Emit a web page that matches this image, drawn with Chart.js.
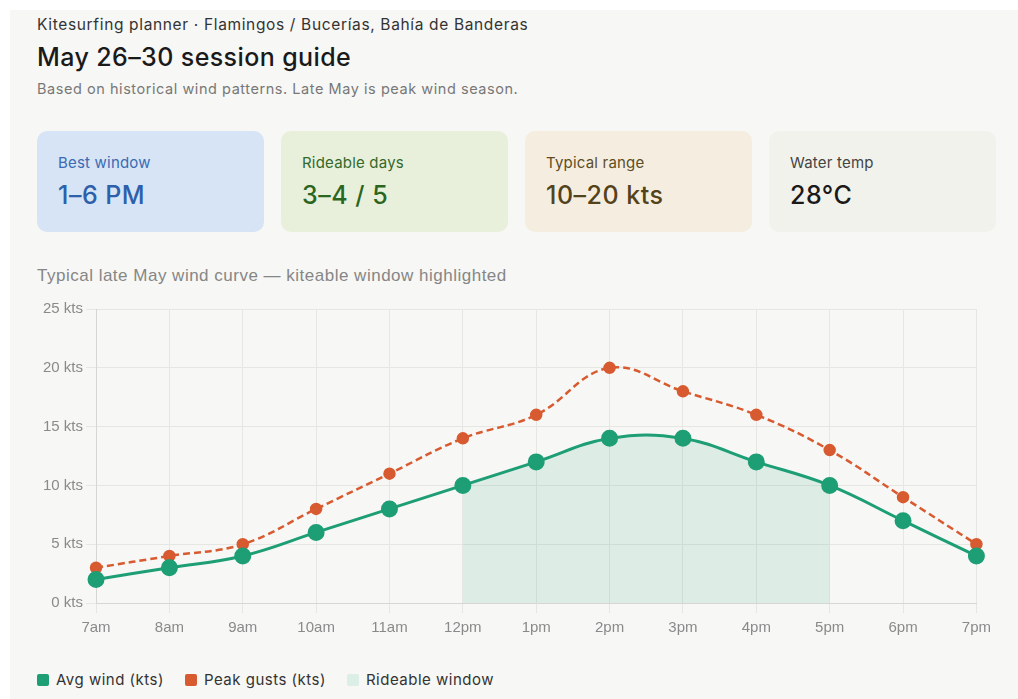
<!DOCTYPE html>
<html>
<head>
<meta charset="utf-8">
<script src="https://cdn.jsdelivr.net/npm/chart.js@4.4.1/dist/chart.umd.min.js"></script>
<style>
  html, body { margin: 0; padding: 0; background: #fff; }
  body { width: 1018px; height: 699px; overflow: hidden; position: relative; font-family: Inter, "Noto Sans", sans-serif; }
  .panel { position: absolute; left: 10px; top: 10px; width: 1020px; height: 700px; background: #f7f7f5; }
  .abs { position: absolute; white-space: nowrap; }
  .eyebrow { left: 27px; top: 5px; font-size: 15.5px; color: #333; letter-spacing: 0.65px; }
  .title { left: 27px; top: 32px; font-size: 25px; font-weight: 500; color: #1a1a1a; letter-spacing: 0.4px; }
  .sub { left: 27px; top: 70px; font-size: 14.5px; color: #777; letter-spacing: 0.55px; }
  .card { position: absolute; top: 121px; width: 227px; height: 101px; border-radius: 10px; }
  .card .lab { position: absolute; left: 21px; top: 22px; font-size: 15px; letter-spacing: 0.2px; }
  .card .val { position: absolute; left: 21px; top: 49px; font-size: 25px; font-weight: 500; letter-spacing: 0.5px; }
  .ctitle { left: 27px; top: 256px; font-size: 17px; color: #868686; letter-spacing: 0.5px; font-family: "Liberation Sans", Arial, sans-serif; }
  .chartbox { position: absolute; left: 27px; top: 287px; width: 960px; height: 346px; }
  .legend { position: absolute; left: 27px; top: 660px; font-size: 15px; color: #333; display: flex; gap: 21px; letter-spacing: 0.5px; }
  .legend span.item { display: flex; align-items: center; }
  .legend i { display: inline-block; width: 12px; height: 12px; border-radius: 2px; margin-right: 7px; }
</style>
</head>
<body>
<div class="panel">
  <div class="abs eyebrow">Kitesurfing planner · Flamingos / Bucerías, Bahía de Banderas</div>
  <div class="abs title">May 26–30 session guide</div>
  <div class="abs sub">Based on historical wind patterns. Late May is peak wind season.</div>

  <div class="card" style="left:27px;background:#d7e4f5;">
    <div class="lab" style="color:#3a6bb3;">Best window</div>
    <div class="val" style="color:#2d60ab;">1–6 PM</div>
  </div>
  <div class="card" style="left:271px;background:#e8f0dc;">
    <div class="lab" style="color:#35692a;">Rideable days</div>
    <div class="val" style="color:#2b6620;">3–4 / 5</div>
  </div>
  <div class="card" style="left:515px;background:#f5eee0;">
    <div class="lab" style="color:#5e4d24;">Typical range</div>
    <div class="val" style="color:#54431a;">10–20 kts</div>
  </div>
  <div class="card" style="left:759px;background:#f2f2ec;">
    <div class="lab" style="color:#444;">Water temp</div>
    <div class="val" style="color:#1a1a1a;">28°C</div>
  </div>

  <div class="abs ctitle">Typical late May wind curve — kiteable window highlighted</div>
  <div class="chartbox"><canvas id="windChart"></canvas></div>

  <div class="legend">
    <span class="item"><i style="background:#1d9e75"></i>Avg wind (kts)</span>
    <span class="item"><i style="background:#d85a30"></i>Peak gusts (kts)</span>
    <span class="item"><i style="background:#dcefe6"></i>Rideable window</span>
  </div>
</div>

<script>
// hours of the day
var hours = ['7am', '8am', '9am', '10am', '11am', '12pm', '1pm', '2pm', '3pm', '4pm', '5pm', '6pm', '7pm'];
// average wind, knots
var avgWind = [2, 3, 4, 6, 8, 10, 12, 14, 14, 12, 10, 7, 4];
// peak gusts, knots
var peakGusts = [3, 4, 5, 8, 11, 14, 16, 20, 18, 16, 13, 9, 5];
// rideable window 12pm - 5pm
var rideable = [null, null, null, null, null, 10, 12, 14, 14, 12, 10, null, null];
var yTicks = [0, 5, 10, 15, 20, 25];

var tickFont = { family: '"Liberation Sans", Arial, sans-serif', size: 15 };

var ctx = document.getElementById('windChart').getContext('2d');
var windChart = new Chart(ctx, {
    type: 'line',
    data: {
        labels: hours,
        datasets: [{
            label: 'Avg wind (kts)',
            data: avgWind,
            borderColor: '#1d9e75',
            backgroundColor: '#1d9e75',
            borderWidth: 3,
            pointRadius: 7,
            pointHoverRadius: 7,
            tension: 0.4,
            fill: false,
            order: 1
        }, {
            label: 'Peak gusts (kts)',
            data: peakGusts,
            borderColor: '#d85a30',
            backgroundColor: '#d85a30',
            borderWidth: 2.5,
            borderDash: [7, 4],
            pointRadius: 5,
            pointHoverRadius: 5,
            tension: 0.4,
            fill: false,
            order: 2
        }, {
            label: 'Rideable window',
            data: rideable,
            borderWidth: 0,
            borderColor: 'rgba(0,0,0,0)',
            backgroundColor: 'rgba(29,158,117,0.12)',
            pointRadius: 0,
            tension: 0.4,
            fill: 'origin',
            order: 3
        }]
    },
    options: {
        responsive: true,
        maintainAspectRatio: false,
        animation: false,
        layout: { padding: { left: 3, right: 19, top: 0, bottom: 0 } },
        plugins: {
            legend: { display: false },
            tooltip: { enabled: false }
        },
        scales: {
            x: {
                grid: { color: '#e6e6e3', tickLength: 10 },
                border: { color: '#d6d6d3' },
                ticks: {
                    color: '#8a8a8a',
                    font: tickFont,
                    padding: 6,
                    maxRotation: 0
                }
            },
            y: {
                min: 0,
                max: 25,
                afterBuildTicks: function (axis) {
                    axis.ticks = yTicks.map(function (v) { return { value: v }; });
                },
                grid: { color: '#e6e6e3', tickLength: 10 },
                border: { color: '#d6d6d3' },
                ticks: {
                    color: '#8a8a8a',
                    font: tickFont,
                    padding: 3,
                    callback: function (v) { return v + ' kts'; }
                }
            }
        }
    }
});
</script>
</body>
</html>
